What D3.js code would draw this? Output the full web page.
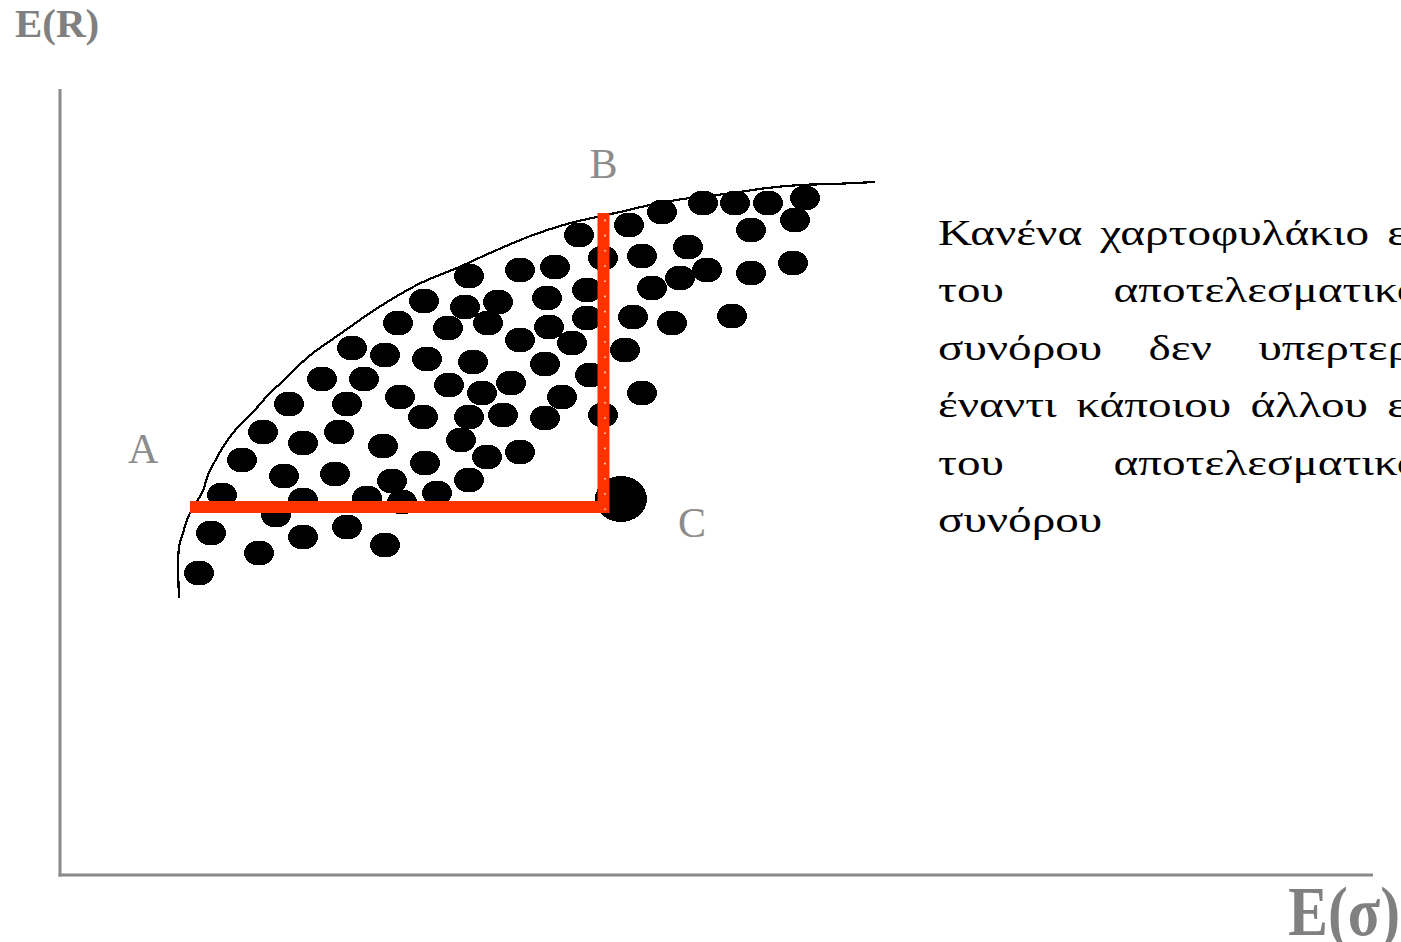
<!DOCTYPE html>
<html>
<head>
<meta charset="utf-8">
<script src="https://cdn.jsdelivr.net/npm/d3@7"></script>
<style>
  html, body { margin: 0; padding: 0; background: #fff; overflow: hidden; }
  svg { display: block; }
</style>
</head>
<body>
<svg id="chart" width="1401" height="942"></svg>
<script>
// Feasible portfolios: risk σ and expected return E(R), in chart units
const portfolioSigma = [
  74.5, 70.8, 67.5, 64.3, 60.2, 56.9, 73.5, 69.1, 51.9, 54.3,
  58.2, 62.8, 64.7, 62.0, 59.2, 69.1, 73.3, 46.0, 49.5, 40.9,
  52.7, 48.7, 43.8, 40.5, 36.4, 42.8, 38.8, 33.8, 52.7, 57.3,
  61.2, 67.2, 48.9, 46.0, 51.2, 56.5, 29.2, 32.5, 36.7, 41.3,
  48.5, 53.0, 26.2, 30.4, 38.9, 42.2, 45.1, 58.2, 50.2, 22.9,
  28.7, 34.0, 36.3, 40.9, 44.3, 48.5, 54.3, 20.3, 24.3, 27.9,
  32.3, 40.1, 42.7, 46.0, 36.5, 18.2, 22.4, 27.5, 33.2, 40.9,
  16.2, 24.3, 21.6, 30.7, 34.2, 37.7, 15.1, 24.3, 28.7, 32.5,
  19.9, 13.9
];
const portfolioReturn = [
  67.7, 67.2, 67.2, 67.2, 66.3, 65.0, 65.5, 64.5, 64.0, 61.7,
  61.9, 62.8, 60.5, 59.7, 58.7, 60.2, 61.2, 60.5, 60.8, 59.9,
  58.5, 57.7, 57.3, 56.8, 57.4, 55.2, 54.7, 55.2, 55.7, 55.8,
  55.2, 55.9, 54.8, 53.5, 53.2, 52.5, 52.7, 52.0, 51.6, 51.3,
  51.1, 50.0, 49.6, 49.6, 49.0, 48.2, 49.2, 48.2, 47.8, 47.1,
  47.1, 47.8, 45.8, 45.8, 46.0, 45.7, 46.0, 44.3, 43.2, 44.3,
  42.9, 43.5, 41.8, 42.3, 41.2, 41.5, 39.9, 40.1, 39.4, 39.5,
  38.0, 37.5, 36.0, 37.7, 37.3, 38.2, 34.2, 33.8, 34.8, 33.0,
  32.2, 30.2
];

// Efficient frontier
const frontierSigma = [
  11.9, 11.9, 12.3, 12.7, 13.2, 14.2, 14.8, 15.4, 16.3, 17.7,
  19.3, 21.0, 22.3, 23.7, 25.3, 27.0, 29.0, 31.0, 33.7, 36.3,
  39.7, 43.0, 47.3, 50.7, 53.2, 56.0, 59.0, 62.3, 67.3, 70.7,
  74.0, 77.3, 81.5
];
const frontierReturn = [
  27.7, 32.8, 34.2, 35.5, 36.6, 38.2, 40.0, 41.2, 42.8, 44.7,
  46.3, 48.2, 49.4, 50.8, 52.2, 53.4, 54.8, 56.2, 57.9, 59.3,
  60.7, 62.2, 64.0, 65.1, 65.7, 66.3, 67.0, 67.6, 68.2, 68.7,
  69.0, 69.1, 69.3
];

// Comparison path A → corner → B, and the interior portfolio C
const pathSigma = [13.0, 54.35, 54.35];
const pathReturn = [36.8, 36.8, 66.2];
const portfolioC = { sigma: 56.1, ret: 37.6 };

const axisTitles = { y: "E(R)", x: "E(σ)" };
const pointLabels = ["A", "B", "C"];

const noteLines = [
  "Κανένα χαρτοφυλάκιο επί",
  "του αποτελεσματικού",
  "συνόρου δεν υπερτερεί",
  "έναντι κάποιου άλλου επί",
  "του αποτελεσματικού",
  "συνόρου"
];

// ---------------------------------------------------------------
const svg = d3.select("#chart");
const x = d3.scaleLinear().domain([0, 131.3]).range([60, 1373]);
const y = d3.scaleLinear().domain([0, 78.6]).range([875, 89]);

const axisColor = "#8a8a8a";
const labelColor = "#8c8c8c";

// axes (no ticks)
svg.append("line")
  .attr("x1", x(0)).attr("x2", x(0))
  .attr("y1", y(0) + 1.5).attr("y2", y(78.6))
  .attr("stroke", axisColor).attr("stroke-width", 3);
svg.append("line")
  .attr("x1", x(0) - 1.5).attr("x2", x(131.3))
  .attr("y1", y(0)).attr("y2", y(0))
  .attr("stroke", axisColor).attr("stroke-width", 3);

// axis titles
svg.append("text")
  .attr("x", 15).attr("y", 37)
  .attr("font-family", "Liberation Serif, Times New Roman, serif")
  .attr("font-weight", "bold").attr("font-size", 41)
  .attr("fill", "#808080")
  .text(axisTitles.y);
svg.append("text")
  .attr("transform", "translate(1400,935) scale(0.85,1)")
  .attr("text-anchor", "end")
  .attr("font-family", "Liberation Serif, Times New Roman, serif")
  .attr("font-weight", "bold").attr("font-size", 70)
  .attr("fill", "#808080")
  .text(axisTitles.x);

// portfolio cloud
const portfolios = portfolioSigma.map((s, i) => ({ s, r: portfolioReturn[i] }));
svg.append("g").selectAll("ellipse")
  .data(portfolios)
  .join("ellipse")
  .attr("cx", d => x(d.s))
  .attr("cy", d => y(d.r))
  .attr("rx", 15)
  .attr("ry", 12.5)
  .attr("fill", "#000")
  .attr("shape-rendering", "crispEdges");

// efficient frontier
const frontier = frontierSigma.map((s, i) => [x(s), y(frontierReturn[i])]);
svg.append("path")
  .attr("d", d3.line().curve(d3.curveCatmullRom.alpha(0.5))(frontier))
  .attr("fill", "none")
  .attr("stroke", "#000")
  .attr("stroke-width", 2.2)
  .attr("shape-rendering", "crispEdges");

// portfolio C
svg.append("ellipse")
  .attr("cx", x(portfolioC.sigma)).attr("cy", y(portfolioC.ret))
  .attr("rx", 26).attr("ry", 23)
  .attr("fill", "#000")
  .attr("shape-rendering", "crispEdges");

// A → corner → B
const path = pathSigma.map((s, i) => [x(s), y(pathReturn[i])]);
svg.append("path")
  .attr("d", d3.line()(path))
  .attr("fill", "none")
  .attr("stroke", "#ff3300")
  .attr("stroke-width", 12)
  .attr("stroke-linejoin", "miter")
  .attr("stroke-linecap", "butt");
svg.append("line")
  .attr("x1", path[1][0] + 1.5).attr("x2", path[2][0] + 1.5)
  .attr("y1", path[1][1] + 3).attr("y2", path[2][1])
  .attr("stroke", "#fff").attr("stroke-width", 1.6)
  .attr("stroke-dasharray", "1.6,13.6")
  .attr("opacity", 0.85);

// point labels
const labelFont = "Liberation Serif, Times New Roman, serif";
const labelPos = [
  { x: path[0][0] - 62, y: path[0][1] - 44 },
  { x: path[2][0] - 14, y: path[2][1] - 35 },
  { x: x(portfolioC.sigma) + 57, y: y(portfolioC.ret) + 38 }
];
svg.append("g").selectAll("text")
  .data(pointLabels)
  .join("text")
  .attr("x", (d, i) => labelPos[i].x)
  .attr("y", (d, i) => labelPos[i].y)
  .attr("font-family", labelFont)
  .attr("font-size", 42)
  .attr("fill", labelColor)
  .text(d => d);

// justified note on the right, running past the page edge
const noteWidth = 386;
const note = svg.append("g")
  .attr("transform", "translate(938,0) scale(1.31,1)")
  .attr("font-family", labelFont)
  .attr("font-size", 36)
  .attr("fill", "#000");
noteLines.forEach((line, li) => {
  const words = line.split(" ");
  const base = 245 + li * 57.4;
  const nodes = words.map(w => note.append("text").attr("y", base).text(w));
  const widths = nodes.map(n => n.node().getComputedTextLength());
  const total = d3.sum(widths);
  const last = li === noteLines.length - 1;
  const gap = (last || words.length < 2)
    ? 9
    : (noteWidth - total) / (words.length - 1);
  let cx = 0;
  nodes.forEach((n, i) => { n.attr("x", cx); cx += widths[i] + gap; });
});
</script>
</body>
</html>
